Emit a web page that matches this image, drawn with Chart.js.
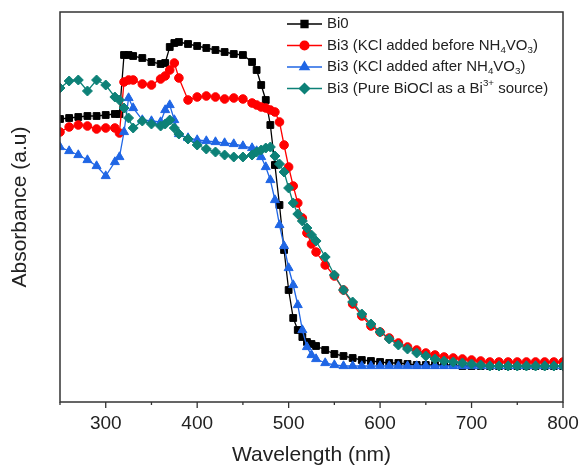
<!DOCTYPE html>
<html>
<head>
<meta charset="utf-8">
<script src="https://cdn.jsdelivr.net/npm/chart.js@4.4.0/dist/chart.umd.min.js"></script>
<style>
body { margin: 0; background: #fff; }
</style>
</head>
<body>
<canvas id="uvvis" width="579" height="468"></canvas>
<script>
// wavelength grid (nm)
var wavelength = [250,260,270,280,290,300,310,315,320,325,330,340,350,360,365,370,375,380,390,400,410,420,430,440,450,460,465,470,475,480,485,490,495,500,505,510,515,520,525,530,540,550,560,570,580,590,600,610,620,630,640,650,660,670,680,690,700,710,720,730,740,750,760,770,780,790,800];

var bi0 = [2.83,2.84,2.85,2.86,2.86,2.87,2.88,2.88,
	3.47,3.47,3.46,3.44,3.40,3.38,3.39,3.55,3.59,3.60,
	3.58,3.56,3.54,3.52,3.50,3.48,3.47,3.40,
	3.32,3.17,3.02,2.77,2.37,1.97,1.52,1.12,0.84,0.72,0.65,0.60,0.58,0.56,
	0.52,0.48,0.46,0.44,0.42,0.41,0.40,0.39,0.39,0.38,
	0.37,0.37,0.37,0.37,0.37,0.36,0.36,0.36,0.36,0.36,0.36,0.36,0.36,0.36,0.36,0.36,0.36];

var bi3Before = [2.70,2.75,2.77,2.76,2.73,2.74,2.74,2.69,
	3.20,3.22,3.22,3.18,3.17,3.23,3.26,3.32,3.39,3.24,
	3.02,3.05,3.06,3.05,3.03,3.04,3.03,2.99,
	2.97,2.95,2.94,2.92,2.90,2.80,2.57,2.35,2.16,1.99,1.84,1.69,1.58,1.50,
	1.37,1.26,1.12,0.98,0.86,0.76,0.70,0.64,0.59,0.55,
	0.52,0.49,0.47,0.45,0.44,0.43,0.42,0.41,
	0.40,0.40,0.40,0.40,0.40,0.40,0.40,0.40,0.40];

var bi3After = [2.55,2.51,2.47,2.42,2.36,2.26,2.40,2.45,
	2.70,3.04,2.94,2.82,2.81,2.80,2.92,2.97,2.82,2.68,
	2.64,2.62,2.61,2.60,2.59,2.58,2.56,2.54,
	2.51,2.45,2.35,2.22,2.02,1.77,1.56,1.34,1.17,0.97,0.72,0.55,0.47,0.43,
	0.39,0.37,
	0.36,0.36,0.36,0.36,0.36,0.36,0.36,0.36,0.36,0.36,0.36,0.36,0.36,0.36,0.36,0.36,0.36,0.36,0.36,0.36,0.36,0.36,0.36,0.36,0.36];

var bi3BiOCl = [3.14,3.21,3.22,3.11,3.22,3.17,3.05,3.02,
	2.94,2.84,2.74,2.81,2.78,2.76,2.78,2.82,2.74,2.68,
	2.63,2.57,2.53,2.50,2.47,2.45,2.45,2.47,
	2.50,2.52,2.54,2.55,2.46,2.38,2.30,2.14,1.99,1.88,1.81,1.74,1.67,1.61,
	1.45,1.27,1.12,1.00,0.88,0.78,0.70,0.63,0.57,0.53,
	0.49,0.46,0.43,0.41,0.40,0.39,0.38,0.37,
	0.36,0.36,0.36,0.36,0.36,0.36,0.36,0.36,0.36];

var seriesNames = ['Bi0',
	'Bi3 (KCl added before NH_{4}VO_{3})',
	'Bi3 (KCl added after NH_{4}VO_{3})',
	'Bi3 (Pure BiOCl as a Bi^{3+} source)'];

var xTicks = [300,400,500,600,700,800];

var FONT = '"Liberation Sans", Arial, sans-serif';
Chart.defaults.font.family = FONT;

function pts(vals) {
	return vals.map(function (v, i) { return { x: wavelength[i], y: v }; });
}

function series(i, vals, color, style, r, order) {
	return {
		label: seriesNames[i],
		data: pts(vals),
		borderColor: color,
		backgroundColor: color,
		borderWidth: 1.3,
		pointStyle: style,
		pointRadius: r,
		pointBorderWidth: 1,
		tension: 0,
		order: order
	};
}

// box round the plot + outward ticks on the x axis
var frame = {
	id: 'frame',
	afterDatasetsDraw: function (chart) {
		var ctx = chart.ctx, a = chart.chartArea, xs = chart.scales.x;
		ctx.save();
		ctx.strokeStyle = '#333';
		ctx.lineWidth = 1.5;
		ctx.strokeRect(a.left, a.top, a.right - a.left, a.bottom - a.top);
		ctx.lineWidth = 1.3;
		for (var v = 250; v <= 800; v += 50) {
			var px = xs.getPixelForValue(v);
			var len = (v % 100 === 0) ? 6 : 3;
			ctx.beginPath();
			ctx.moveTo(px, a.bottom);
			ctx.lineTo(px, a.bottom + len);
			ctx.stroke();
		}
		ctx.restore();
	}
};

// text with _{sub} and ^{sup}
function drawRich(ctx, text, x, y, size) {
	var parts = text.split(/(_\{[^}]*\}|\^\{[^}]*\})/);
	parts.forEach(function (p) {
		if (!p) return;
		var s = size, dy = 0;
		if (p[0] === '_') { s = size * 0.65; dy = size * 0.32; p = p.slice(2, -1); }
		else if (p[0] === '^') { s = size * 0.65; dy = -size * 0.33; p = p.slice(2, -1); }
		ctx.font = s + 'px ' + FONT;
		ctx.fillText(p, x, y + dy);
		x += ctx.measureText(p).width;
	});
}

var richLegend = {
	id: 'richLegend',
	afterDraw: function (chart) {
		var ctx = chart.ctx;
		ctx.save();
		ctx.textBaseline = 'middle';
		ctx.textAlign = 'left';
		chart.data.datasets.forEach(function (ds, i) {
			var y = 24 + i * 21.5;
			ctx.strokeStyle = ds.borderColor;
			ctx.fillStyle = ds.backgroundColor;
			ctx.lineWidth = 1.5;
			ctx.beginPath();
			ctx.moveTo(287, y);
			ctx.lineTo(322, y);
			ctx.stroke();
			Chart.helpers.drawPoint(ctx, { pointStyle: ds.pointStyle, radius: ds.pointRadius, rotation: 0, borderWidth: 1 }, 304.5, y);
			ctx.fillStyle = '#222';
			drawRich(ctx, ds.label, 327, y, 15);
		});
		ctx.restore();
	}
};

var chart = new Chart(document.getElementById('uvvis'), {
	type: 'line',
	data: {
		datasets: [
			series(0, bi0, '#000000', 'rect', 4.8, 4),
			series(1, bi3Before, '#ff0000', 'circle', 4.3, 3),
			series(2, bi3After, '#1f66e5', 'triangle', 5.2, 2),
			series(3, bi3BiOCl, '#0d8177', 'rectRot', 5, 1)
		]
	},
	options: {
		responsive: false,
		animation: false,
		devicePixelRatio: 1,
		layout: { padding: { top: 12, right: 16, left: 0, bottom: 0 } },
		plugins: {
			legend: { display: false },
			tooltip: { enabled: false }
		},
		scales: {
			x: {
				type: 'linear',
				min: 250,
				max: 800,
				grid: { display: false, drawTicks: false },
				border: { display: false },
				ticks: {
					stepSize: 50,
					autoSkip: false,
					maxRotation: 0,
					padding: 10,
					color: '#222',
					font: { size: 19 },
					callback: function (v) { return xTicks.indexOf(v) >= 0 ? v : ''; }
				},
				title: { display: true, text: 'Wavelength (nm)', color: '#222', font: { size: 21 }, padding: { top: 0, bottom: 0 } },
				afterFit: function (s) { s.height = 66; s.paddingLeft = 0; s.paddingRight = 0; }
			},
			y: {
				min: 0,
				max: 3.9,
				grid: { display: false, drawTicks: false },
				border: { display: false },
				ticks: { display: false },
				title: { display: true, text: 'Absorbance (a.u)', color: '#222', font: { size: 21 }, padding: { top: 8, bottom: 0 } },
				afterFit: function (s) { s.width = 60; }
			}
		}
	},
	plugins: [frame, richLegend]
});
</script>
</body>
</html>
